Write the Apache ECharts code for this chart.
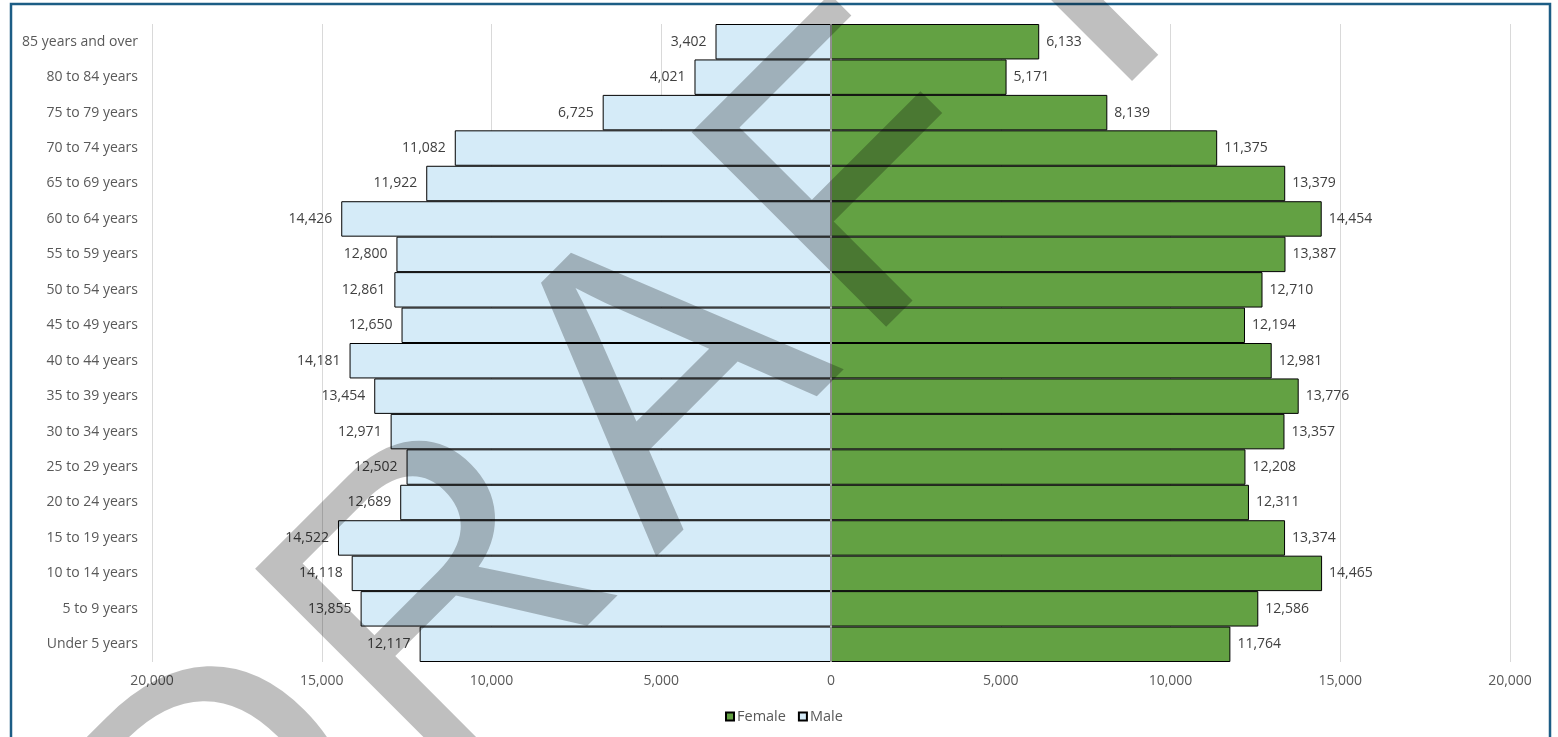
<!DOCTYPE html>
<html>
<head>
<meta charset="utf-8">
<style>
  html, body { margin: 0; padding: 0; background: #ffffff; }
  #chart { width: 1558px; height: 737px; }
</style>
<script src="https://cdn.jsdelivr.net/npm/echarts@6/dist/echarts.min.js"></script>
</head>
<body>
<div id="chart"></div>
<script>
// Age groups, listed from the youngest (bottom) to the oldest (top)
const ageGroups = [
  'Under 5 years', '5 to 9 years', '10 to 14 years', '15 to 19 years',
  '20 to 24 years', '25 to 29 years', '30 to 34 years', '35 to 39 years',
  '40 to 44 years', '45 to 49 years', '50 to 54 years', '55 to 59 years',
  '60 to 64 years', '65 to 69 years', '70 to 74 years', '75 to 79 years',
  '80 to 84 years', '85 years and over'
];

const malePopulation = [
  12117, 13855, 14118, 14522, 12689, 12502, 12971, 13454, 14181,
  12650, 12861, 12800, 14426, 11922, 11082, 6725, 4021, 3402
];

const femalePopulation = [
  11764, 12586, 14465, 13374, 12311, 12208, 13357, 13776, 12981,
  12194, 12710, 13387, 14454, 13379, 11375, 8139, 5171, 6133
];

// Watermark word, one glyph per entry
const watermarkLetters = ['D', 'R', 'A', 'F', 'T'];

const FONT = '"Open Sans", "Liberation Sans", Arial, sans-serif';
const WM_FONT = '"Liberation Sans", Arial, sans-serif';
const TEXT_COLOR = '#595959';
const fmt = v => Math.abs(v).toLocaleString('en-US');

const chart = echarts.init(document.getElementById('chart'), null, { renderer: 'canvas' });

// Watermark glyphs laid along a 45° baseline
const wmAngle = Math.PI / 4;
const wmOffsets = [-410, -108, 205, 487, 764];
const wmCx = 527, wmCy = 530;
const watermark = watermarkLetters.map((ch, i) => ({
  type: 'text',
  x: wmCx + Math.cos(wmAngle) * wmOffsets[i],
  y: wmCy - Math.sin(wmAngle) * wmOffsets[i],
  rotation: wmAngle,
  z: 100,
  silent: true,
  style: {
    text: ch,
    fontSize: 400,
    fontFamily: WM_FONT,
    fill: 'rgba(0,0,0,0.25)',
    textAlign: 'center',
    textVerticalAlign: 'middle'
  }
}));

const option = {
  animation: false,
  backgroundColor: '#ffffff',
  textStyle: { fontFamily: FONT },
  grid: { left: 152, right: 48, top: 24, bottom: 75, containLabel: false },
  legend: {
    data: ['Female', 'Male'],
    left: 720,
    top: 704,
    itemWidth: 8,
    itemHeight: 8,
    itemGap: 12,
    icon: 'rect',
    textStyle: { color: TEXT_COLOR, fontSize: 14.5, fontFamily: FONT, padding: [0, 0, 0, -2] }
  },
  xAxis: {
    type: 'value',
    min: -20000,
    max: 20000,
    interval: 5000,
    axisLine: { show: false },
    axisTick: { show: false },
    splitLine: { lineStyle: { color: '#D9D9D9', width: 1 } },
    axisLabel: {
      color: TEXT_COLOR, fontSize: 14, margin: 12, fontFamily: FONT,
      formatter: v => fmt(v)
    }
  },
  yAxis: {
    type: 'category',
    data: ageGroups,
    axisLine: { show: false, onZero: false },
    axisTick: { show: false },
    axisLabel: { color: TEXT_COLOR, fontSize: 14, margin: 14, fontFamily: FONT }
  },
  series: [
    {
      name: 'Male',
      type: 'bar',
      data: malePopulation.map(v => -v),
      barCategoryGap: 0,
      barGap: '-100%',
      itemStyle: { color: '#D5EBF8', borderColor: '#000000', borderWidth: 1 },
      label: {
        show: true,
        position: 'left',
        distance: 9,
        color: '#404040',
        fontSize: 14,
        fontFamily: FONT,
        formatter: p => fmt(p.value)
      }
    },
    {
      name: 'Female',
      type: 'bar',
      data: femalePopulation,
      barCategoryGap: 0,
      barGap: '-100%',
      itemStyle: { color: '#63A143', borderColor: '#000000', borderWidth: 1 },
      label: {
        show: true,
        position: 'right',
        distance: 7,
        color: '#404040',
        fontSize: 14,
        fontFamily: FONT,
        formatter: p => fmt(p.value)
      },
      markLine: {
        silent: true,
        symbol: 'none',
        label: { show: false },
        lineStyle: { color: '#BFBFBF', width: 1.5, type: 'solid' },
        data: [{ xAxis: 0 }]
      }
    }
  ],
  graphic: [
    {
      type: 'rect',
      z: 99,
      silent: true,
      shape: { x: 11, y: 4, width: 1539, height: 745 },
      style: { fill: 'none', stroke: '#1C5D85', lineWidth: 2.5 }
    }
  ].concat(watermark)
};

chart.setOption(option);
</script>
</body>
</html>
